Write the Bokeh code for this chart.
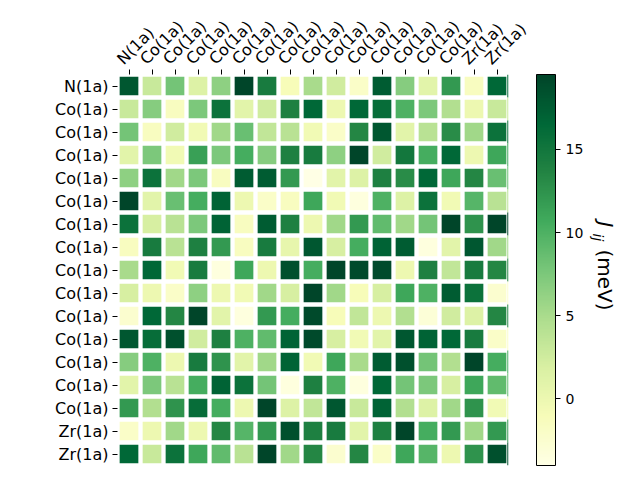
import math
from bokeh.plotting import figure
from bokeh.layouts import row
from bokeh.models import (Range1d, FixedTicker, LinearColorMapper, ColorBar,
                          ColumnDataSource, LinearAxis)
from bokeh.core.properties import value
from bokeh.transform import transform
from bokeh.embed import file_html
from bokeh.resources import INLINE

# ---- data -------------------------------------------------------------
site_labels = ["N(1a)"] + ["Co(1a)"] * 14 + ["Zr(1a)"] * 2

row_00 = [18, 3, 8, 1.5, 6.5, 19.5, 14.5, -1, 5, 2.5, -2, 17.5, 7, 1, 12, -1.5, 16.5]
row_01 = [3, 7, -1.5, 7.5, 15.5, 1, 2.5, 14, 16.5, 0, 16.5, 16, 10, 7.5, 4.5, 0, 3]
row_02 = [8, -1.5, 2.5, -0.5, 5.5, 8.5, 3.5, 4, -0.5, -2, 13.5, 18, 1, 4, 13, 5.5, 15.5]
row_03 = [1, 7.5, -0.5, 11.5, 7.5, 10.5, 7, 14, 14.5, 6.5, 19.5, 2.5, 15, 10.5, 16.5, 0, 11]
row_04 = [6.5, 15.5, 5.5, 7.5, -1.5, 17.5, 17.5, 12, -4, 1, 1.5, 14, 13, 16.5, 11, 13.5, 8.5]
row_05 = [19.5, 1, 8.5, 10.5, 17, 0, -2, -1.5, 11, -0.5, -3.5, 10, 1.5, 15.5, -0.5, 9.5, 4]
row_06 = [15.5, 2, 4, 7.5, 17, -1.5, 17.5, 14, 0, 5.5, 12, 9, 5.5, 8, 19.5, 12.5, 19.5]
row_07 = [-1.5, 14.5, 4, 14, 12, -1.5, 14.5, 0.5, 18, 2, 10.5, 17, 17.5, -3.5, 1, 18, 5.5]
row_08 = [5, 16.5, -0.5, 14.5, -3.5, 11, 0, 18.5, 10.5, 19.5, 19, 19, 0, 14, 3.5, 14.5, 13.5]
row_09 = [2, 0, -2, 6.5, 0, -0.5, 5.5, 2, 19.5, 5.5, -1, 2, 11, 10, 17.5, 15.5, -2.5]
row_10 = [-2.5, 16.5, 13.5, 19.5, 1, -3.5, 12, 10.5, 19, -1, 3.5, 0, 4.5, -3, 2.5, 1.5, 13.5]
row_11 = [18, 16, 18.5, 2.5, 14, 10, 9, 17, 19, 2, -0.5, 1, 18, 17, 16.5, 14.5, -2]
row_12 = [7, 10, 0, 14.5, 12.5, 1, 5.5, 17, -0.5, 11, 5, 17.5, 18.5, 8, 4.5, 19.5, 10.5]
row_13 = [1, 7.5, 4, 10.5, 17, 15.5, 8, -3.5, 14, 10, -3.5, 16.5, 8, 7.5, 2, 11, 9]
row_14 = [12, 4.5, 12.5, 16, 10.5, 0, 19.5, 1.5, 3.5, 18, 3, 17, 4.5, 1.5, 5.5, 12.5, -0.5]
row_15 = [-2, 0, 5.5, 0, 13.5, 9.5, 12, 18.5, 14, 14.5, 1, 14, 19.5, 10.5, 12, 5.5, 12]
row_16 = [16.5, 3, 15.5, 11, 9, 4, 19.5, 5.5, 13.5, -2.5, 13.5, -2, 11, 9.5, 0, 12.5, 18.5]

cbar_ticks = [0, 5, 10, 15]
cbar_label_sym = "J"
cbar_label_sub = "ij"
cbar_label_unit = "(meV)"

rows = [row_00, row_01, row_02, row_03, row_04, row_05, row_06, row_07, row_08,
        row_09, row_10, row_11, row_12, row_13, row_14, row_15, row_16]
n = len(site_labels)

xs, ys, vs = [], [], []
for i, r in enumerate(rows):
    for j, v in enumerate(r):
        xs.append(j)
        ys.append(i)
        vs.append(v)
src = ColumnDataSource(dict(x=xs, y=ys, v=vs))

# ---- colour map (matplotlib YlGn) ---------------------------------------
ylgn9 = ["#ffffe5", "#f7fcb9", "#d9f0a3", "#addd8e", "#78c679",
         "#41ab5d", "#238443", "#006837", "#004529"]


def _rgb(h):
    return [int(h[k:k + 2], 16) for k in (1, 3, 5)]


stops = [_rgb(c) for c in ylgn9]
pal = []
for k in range(256):
    t = k / 255 * (len(stops) - 1)
    a = min(int(t), len(stops) - 2)
    f = t - a
    c = [round(stops[a][m] + (stops[a + 1][m] - stops[a][m]) * f) for m in range(3)]
    pal.append("#%02x%02x%02x" % tuple(c))

mapper = LinearColorMapper(palette=pal, low=min(vs), high=max(vs))

FONT = "DejaVu Sans"
H = 470
LEFT, TOP, FRAME = 117, 74, 391
MAIN_W = 586
PX = FRAME / n  # pixels per cell

p = figure(frame_width=FRAME, frame_height=FRAME,
           x_range=Range1d(-0.5, n - 0.5), y_range=Range1d(n - 0.5, -0.5),
           x_axis_location="above", output_backend="svg", toolbar_location=None,
           min_border_left=LEFT, min_border_top=TOP,
           min_border_bottom=H - TOP - FRAME,
           min_border_right=MAIN_W - LEFT - FRAME)
p.background_fill_color = "white"
p.border_fill_color = "white"
p.outline_line_color = None
p.grid.visible = False

gap = 4.3 / PX
p.rect(x="x", y="y", width=1 - gap, height=1 - gap, source=src,
       fill_color=transform("v", mapper), line_color=None)

# thin sliver of the last column showing at the right edge (as in the original)
edge_src = ColumnDataSource(dict(y=list(range(n)), v=[r[-1] for r in rows],
                                 x=[n - 0.5 - 0.6 / PX] * n))
p.rect(x="x", y="y", width=1.2 / PX, height=1, source=edge_src,
       fill_color=transform("v", mapper), line_color=None)

for ax in (p.xaxis[0], p.yaxis[0]):
    ax.ticker = FixedTicker(ticks=list(range(n)))
    ax.axis_line_color = None
    ax.minor_tick_line_color = None
    ax.major_tick_in = 0
    ax.major_tick_out = 5
    ax.major_tick_line_color = "black"
    ax.major_label_text_font = FONT
    ax.major_label_text_font_size = "16px"
    ax.major_label_text_color = "black"
    ax.major_label_standoff = 4

p.yaxis[0].major_label_overrides = {i: lab for i, lab in enumerate(site_labels)}

# top axis: ticks only
p.xaxis[0].major_label_overrides = {i: "" for i in range(n)}
p.xaxis[0].major_label_text_font_size = "0px"
p.xaxis[0].major_label_standoff = 0

# second top axis carrying the rotated labels (slightly shifted like matplotlib)
SHIFT = 0.4
p.extra_x_ranges = {"lab": Range1d(-0.5 + SHIFT, n - 0.5 + SHIFT)}
lab_axis = LinearAxis(x_range_name="lab", ticker=FixedTicker(ticks=list(range(n))),
                      major_label_overrides={i: lab for i, lab in enumerate(site_labels)},
                      axis_line_color=None, major_tick_line_color=None,
                      minor_tick_line_color=None, major_tick_in=0, major_tick_out=0,
                      major_label_text_font=FONT, major_label_text_font_size="16px",
                      major_label_text_color="black", major_label_standoff=8,
                      major_label_orientation=math.pi / 4)
p.add_layout(lab_axis, "above")

cb = ColorBar(color_mapper=mapper, ticker=FixedTicker(ticks=cbar_ticks),
              width=19, height=FRAME, padding=0, margin=0, location=(28, 0),
              major_label_text_font=FONT, major_label_text_font_size="14px",
              major_label_text_color="black",
              major_tick_out=5, major_tick_in=0, major_tick_line_color="black",
              minor_tick_line_color=None,
              bar_line_color="black", bar_line_width=1,
              border_line_color=None, background_fill_color=None,
              label_standoff=5)
p.add_layout(cb, "right")

# ---- colour-bar label in a narrow side figure (frame aligned with p) ----
LW = 624 - MAIN_W
q = figure(width=LW, height=H, x_range=Range1d(MAIN_W, MAIN_W + LW),
           y_range=Range1d(TOP + FRAME, TOP),
           output_backend="svg", toolbar_location=None, title=None,
           x_axis_location=None, y_axis_location=None,
           min_border=0, min_border_left=0, min_border_right=0,
           min_border_top=0, min_border_bottom=0)
q.grid.visible = False
q.outline_line_color = None
q.background_fill_color = "white"
q.border_fill_color = "white"

ang = -math.pi / 2
q.text(x=[605], y=[221], text=[cbar_label_sym], angle=ang, text_font=value(FONT),
       text_font_style="italic", text_font_size="20px", text_align="left",
       text_baseline="middle", text_color="black")
q.text(x=[597.5], y=[233], text=[cbar_label_sub], angle=ang, text_font=value(FONT),
       text_font_style="italic", text_font_size="14px", text_align="left",
       text_baseline="middle", text_color="black")
q.text(x=[604], y=[249], text=[cbar_label_unit], angle=ang, text_font=value(FONT),
       text_font_size="20px", text_align="left",
       text_baseline="middle", text_color="black")

layout = row(p, q, spacing=0)
open("out.html", "w").write(file_html(layout, INLINE))
